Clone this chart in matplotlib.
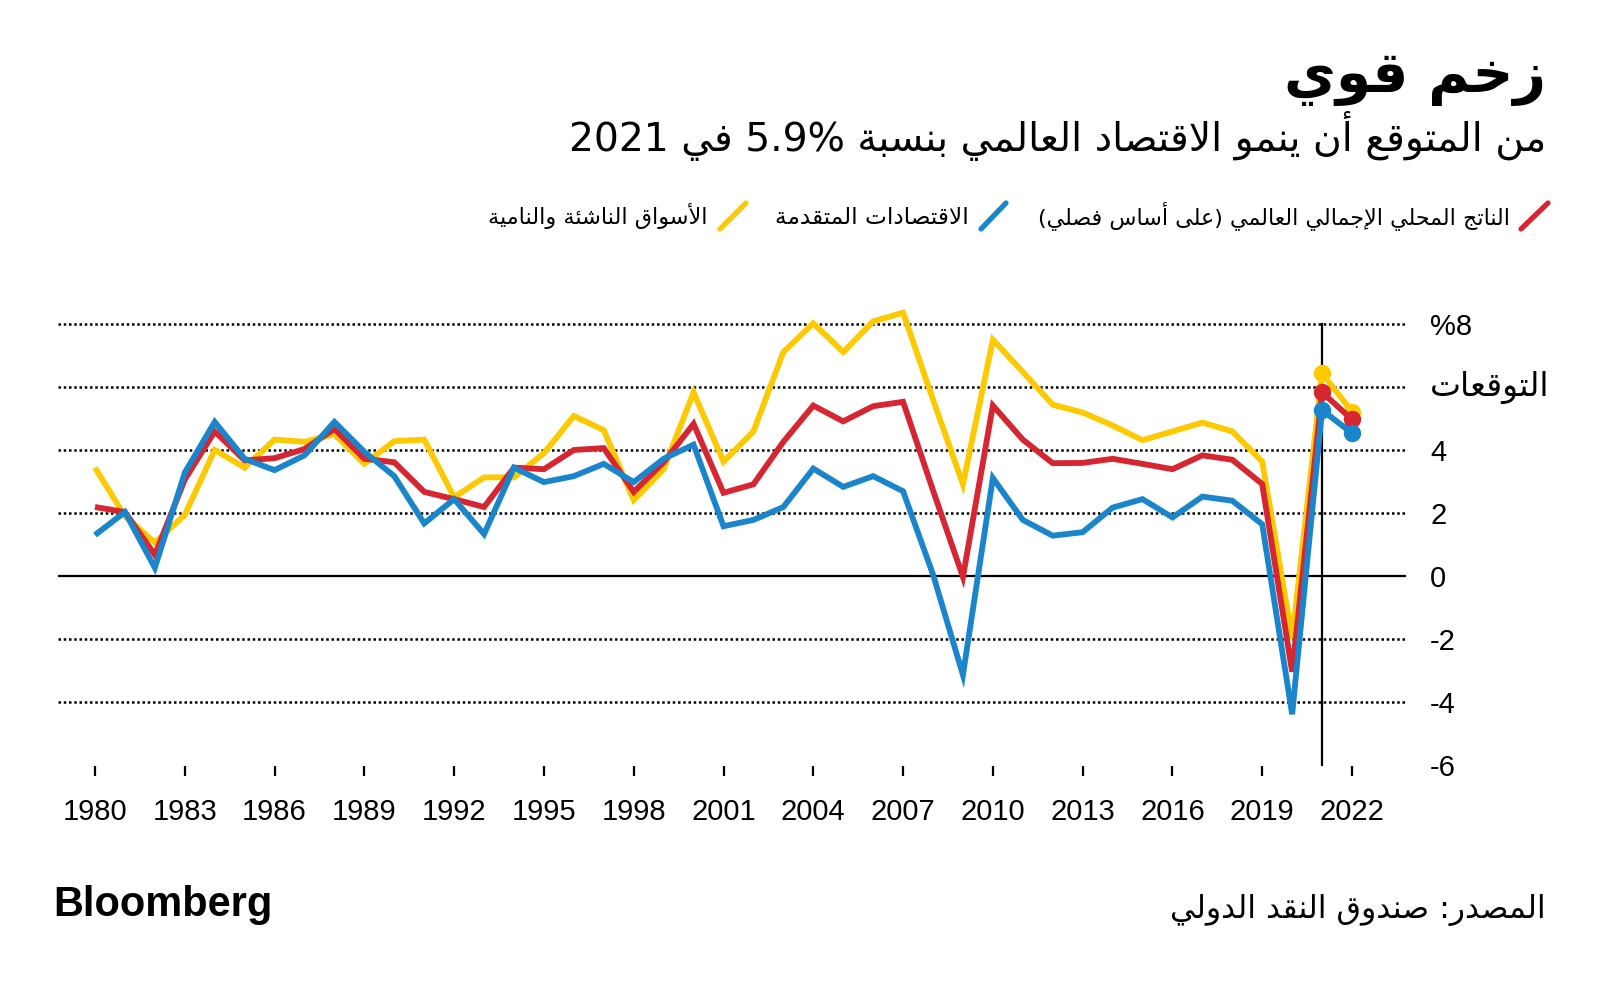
import matplotlib
matplotlib.use("Agg")
import matplotlib.pyplot as plt
from matplotlib.lines import Line2D

# ---------------- data ----------------
years = list(range(1980, 2023))
world = [2.19, 2.03, 0.67, 3.06, 4.59, 3.67, 3.74, 4.03, 4.67, 3.72, 3.61, 2.67, 2.44, 2.19,
         3.44, 3.39, 4.00, 4.06, 2.67, 3.61, 4.83,
         2.64, 2.91, 4.26, 5.41, 4.91, 5.39, 5.53, 2.72, -0.03, 5.41, 4.33, 3.58, 3.59, 3.72,
         3.56, 3.39, 3.83, 3.69, 2.92, -3.04, 5.83, 4.97]
advanced = [1.30, 2.03, 0.26, 3.28, 4.89, 3.72, 3.36, 3.83, 4.89, 3.94, 3.17, 1.67, 2.44, 1.33,
            3.44, 2.98, 3.17, 3.56, 2.98, 3.72, 4.17,
            1.58, 1.78, 2.19, 3.41, 2.83, 3.17, 2.69, 0.05, -3.14, 3.11, 1.78, 1.28, 1.39, 2.17,
            2.44, 1.86, 2.52, 2.39, 1.64, -4.39, 5.27, 4.53]
emerging = [3.44, 1.90, 1.06, 1.94, 4.00, 3.44, 4.33, 4.26, 4.50, 3.56, 4.28, 4.33, 2.50, 3.13,
            3.13, 3.90, 5.08, 4.63, 2.41, 3.39, 5.83,
            3.63, 4.59, 7.11, 8.02, 7.11, 8.08, 8.36, 5.60, 2.91, 7.50, 6.48, 5.44, 5.19, 4.78,
            4.31, 4.59, 4.87, 4.59, 3.63, -1.98, 6.43, 5.22]
forecast_years = [2021, 2022]
xtick_years = list(range(1980, 2023, 3))
ytick_values = [8, 6, 4, 2, 0, -2, -4, -6]
ytick_labels = ["%8", "", "4", "2", "0", "-2", "-4", "-6"]
forecast_label = "التوقعات"
title = "زخم قوي"
subtitle = "من المتوقع أن ينمو الاقتصاد العالمي بنسبة 5.9% في 2021"
legend_labels = ["الناتج المحلي الإجمالي العالمي (على أساس فصلي)",
                 "الاقتصادات المتقدمة",
                 "الأسواق الناشئة والنامية"]
source = "المصدر: صندوق النقد الدولي"
brand = "Bloomberg"

RED, BLUE, YELLOW = "#D62631", "#1A85CB", "#FDC900"

# ---------------- minimal Arabic shaping + RTL ordering ----------------
DUAL = {0x0626: 0xFE89, 0x0628: 0xFE8F, 0x062A: 0xFE95, 0x062B: 0xFE99, 0x062C: 0xFE9D,
        0x062D: 0xFEA1, 0x062E: 0xFEA5, 0x0633: 0xFEB1, 0x0634: 0xFEB5, 0x0635: 0xFEB9,
        0x0636: 0xFEBD, 0x0637: 0xFEC1, 0x0638: 0xFEC5, 0x0639: 0xFEC9, 0x063A: 0xFECD,
        0x0641: 0xFED1, 0x0642: 0xFED5, 0x0643: 0xFED9, 0x0644: 0xFEDD, 0x0645: 0xFEE1,
        0x0646: 0xFEE5, 0x0647: 0xFEE9, 0x064A: 0xFEF1}
RIGHT = {0x0622: 0xFE81, 0x0623: 0xFE83, 0x0624: 0xFE85, 0x0625: 0xFE87, 0x0627: 0xFE8D,
         0x0629: 0xFE93, 0x062F: 0xFEA9, 0x0630: 0xFEAB, 0x0631: 0xFEAD, 0x0632: 0xFEAF,
         0x0648: 0xFEED, 0x0649: 0xFEEF}
NONJ = {0x0621: 0xFE80}
LAMALEF = {0x0622: 0xFEF5, 0x0623: 0xFEF7, 0x0625: 0xFEF9, 0x0627: 0xFEFB}
MIRROR = {"(": ")", ")": "("}


def shape(s):
    units = []
    i = 0
    while i < len(s):
        c = ord(s[i])
        if c == 0x0644 and i + 1 < len(s) and ord(s[i + 1]) in LAMALEF:
            units.append(("R", LAMALEF[ord(s[i + 1])]))
            i += 2
            continue
        if c in DUAL:
            units.append(("D", DUAL[c]))
        elif c in RIGHT:
            units.append(("R", RIGHT[c]))
        elif c in NONJ:
            units.append(("N", NONJ[c]))
        else:
            units.append(("X", c))
        i += 1
    out = []
    for k, (kind, base) in enumerate(units):
        if kind == "X":
            out.append(chr(base))
            continue
        prev_j = k > 0 and units[k - 1][0] == "D" and kind in ("D", "R")
        next_j = kind == "D" and k + 1 < len(units) and units[k + 1][0] in ("D", "R", "N")
        if kind == "N":
            off = 0
        elif kind == "R":
            off = 1 if prev_j else 0
        else:
            off = 3 if (prev_j and next_j) else 1 if prev_j else 2 if next_j else 0
        out.append(chr(base + off))
    return "".join(out)


def rtl(s):
    shaped = shape(s)
    runs = []
    for ch in shaped:
        ltr = ch.isascii() and (ch.isalnum() or ch in ".%")
        if runs and runs[-1][0] == ltr:
            runs[-1][1].append(ch)
        else:
            runs.append([ltr, [ch]])
    parts = []
    for ltr, chs in reversed(runs):
        if ltr:
            parts.append("".join(chs))
        else:
            parts.append("".join(MIRROR.get(c, c) for c in reversed(chs)))
    return "".join(parts)


# ---------------- figure ----------------
W, H = 1600, 983
fig = plt.figure(figsize=(W / 100, H / 100), dpi=100)
fig.patch.set_facecolor("white")
renderer = fig.canvas.get_renderer()

AR_FONT = ["DejaVu Sans"]
NUM_FONT = ["Liberation Sans", "DejaVu Sans"]

ax_l, ax_r, ax_top, ax_bot = 58, 1406, 305.1, 776
ax = fig.add_axes([ax_l / W, 1 - ax_bot / H, (ax_r - ax_l) / W, (ax_bot - ax_top) / H])
ax.set_xlim(1978.764, 2023.804)
ax.set_ylim(-6.35, 8.6)
for sp in ax.spines.values():
    sp.set_visible(False)

for v in ytick_values:
    if v == 0:
        ax.axhline(v, color="black", lw=1.6, zorder=1)
    elif v != -6:
        ax.axhline(v, color="black", lw=1.8, linestyle=(0, (1.0, 1.1)), zorder=1)

ax.plot([2021, 2021], [-6.0, 8.0], color="black", lw=1.6, zorder=2)

for series, col, z in [(emerging, YELLOW, 3), (world, RED, 4), (advanced, BLUE, 5)]:
    ax.plot(years, series, color=col, lw=4.2, zorder=z, solid_joinstyle="miter",
            solid_capstyle="butt")
    fy = [series[years.index(y)] for y in forecast_years]
    ax.plot(forecast_years, fy, "o", color=col, ms=11.5, zorder=z)

ax.set_xticks(xtick_years)
ax.set_xticklabels([str(y) for y in xtick_years], fontfamily=NUM_FONT)
ax.tick_params(axis="x", direction="in", length=7.5, width=1.6, pad=15.5, labelsize=21,
               color="black")
ax.yaxis.tick_right()
ax.set_yticks(ytick_values)
ax.set_yticklabels(ytick_labels, fontfamily=NUM_FONT)
ax.tick_params(axis="y", length=0, pad=17.3, labelsize=21)
for lab in ax.get_yticklabels():
    lab.set_ha("left")


def fit_text(x, y, s, width, size0, ha="right", **kw):
    t = fig.text(x / W, 1 - y / H, s, fontsize=size0, ha=ha, va="baseline", **kw)
    w = t.get_window_extent(renderer).width
    t.set_fontsize(size0 * width / w)
    return t


# forecast label at the 6 tick
fit_text(1430, 396, rtl(forecast_label), 119, 18, ha="left", family=AR_FONT)

# title / subtitle
fit_text(1546, 92, rtl(title), 262, 40, family=AR_FONT, fontweight="bold")
fit_text(1546, 151, rtl(subtitle), 978, 26, family=AR_FONT)

# legend
leg = [(legend_labels[0], RED, 1510, 474, (1521, 229, 1548, 203)),
       (legend_labels[1], BLUE, 969, 194, (981, 229, 1006, 203)),
       (legend_labels[2], YELLOW, 707, 220, (720, 229, 746, 203))]
for lab, col, xr, wd, (x1, y1, x2, y2) in leg:
    fit_text(xr, 224, rtl(lab), wd, 16, family=AR_FONT)
    fig.add_artist(Line2D([x1 / W, x2 / W], [1 - y1 / H, 1 - y2 / H], color=col, lw=3.8,
                          solid_capstyle="round", transform=fig.transFigure))

# footer
fit_text(1546, 918, rtl(source), 375, 22, family=AR_FONT)
fit_text(53, 916, brand, 219, 30, ha="left", family=NUM_FONT, fontweight="bold")

fig.savefig("out.png", dpi=100, facecolor="white")
